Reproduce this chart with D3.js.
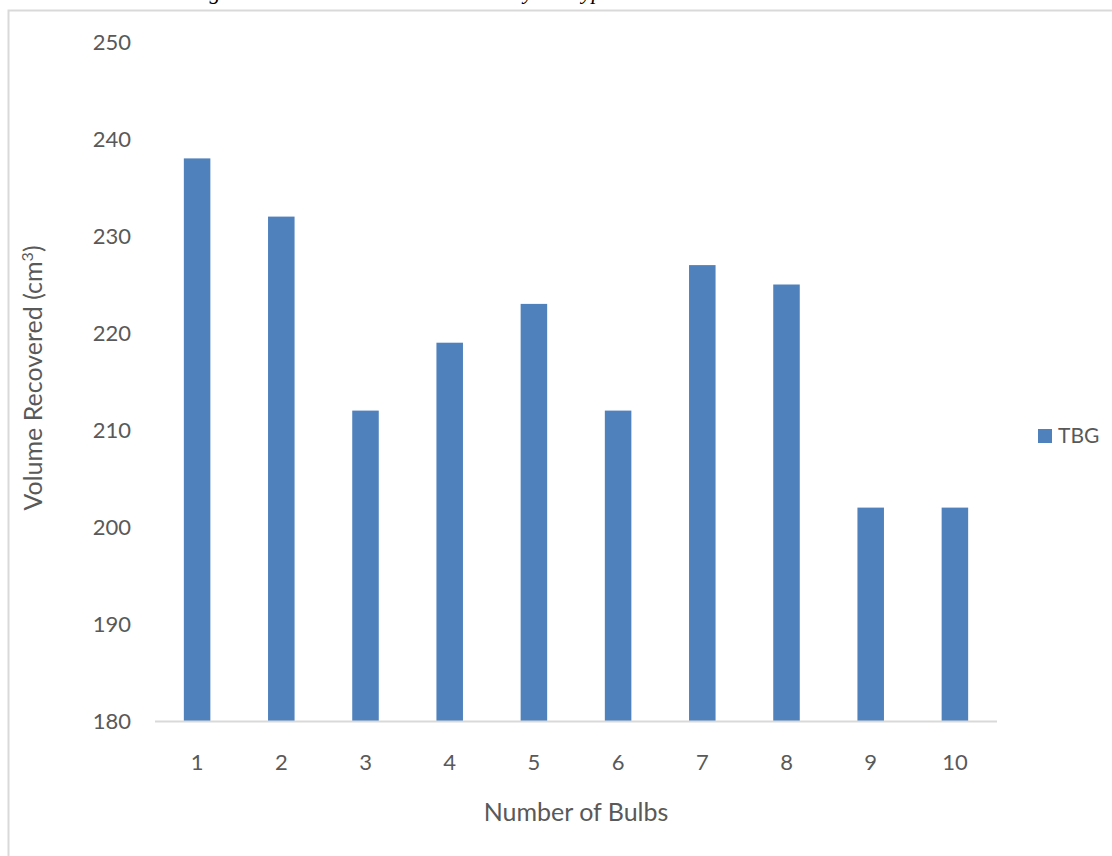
<!DOCTYPE html>
<html>
<head>
<meta charset="utf-8">
<script src="https://cdn.jsdelivr.net/npm/d3@7"></script>
<style>
  html, body { margin: 0; padding: 0; background: #fff; }
  svg { display: block; }
  text { font-family: Lato, "Open Sans", sans-serif; fill: #595959; }
</style>
</head>
<body>
<svg id="chart" width="1112" height="856"></svg>
<script>
// Bulb counts along the x axis
const categories = ["1", "2", "3", "4", "5", "6", "7", "8", "9", "10"];
// Volume recovered for the TBG series (cm³)
const tbgValues = [238, 232, 212, 219, 223, 212, 227, 225, 202, 202];
// Y axis tick values
const yTicks = [180, 190, 200, 210, 220, 230, 240, 250];
const seriesName = "TBG";

const svg = d3.select("#chart");
const W = 1112, H = 856;
const plot = { left: 155, right: 997, top: 42, bottom: 721 };
const barColor = "#4f81bd";
const gridColor = "#d9d9d9";

// Caption above the chart frame (only its descenders fall inside the page)
svg.append("text")
  .attr("x", 190).attr("y", -1)
  .style("font-family", "'Liberation Serif', 'DejaVu Serif', serif")
  .style("font-style", "italic")
  .style("font-size", "22px")
  .style("fill", "#000")
  .text("Figure 4.2: Total Volume Recovered by the Type");

// Chart frame
svg.append("path")
  .attr("d", `M8.5,${H} V10.5 H${W}`)
  .attr("fill", "none")
  .attr("stroke", gridColor)
  .attr("stroke-width", 2);

const x = d3.scaleBand()
  .domain(categories)
  .range([plot.left, plot.right])
  .paddingInner(0.685)
  .paddingOuter(0.3425);

const y = d3.scaleLinear()
  .domain([180, 250])
  .range([plot.bottom, plot.top]);

// Bars
svg.append("g")
  .selectAll("rect")
  .data(tbgValues)
  .join("rect")
  .attr("x", (d, i) => x(categories[i]))
  .attr("y", d => y(d))
  .attr("width", x.bandwidth())
  .attr("height", d => y(180) - y(d))
  .attr("fill", barColor);

// Y axis labels
const yAxis = svg.append("g")
  .attr("transform", `translate(${plot.left},0)`)
  .call(d3.axisLeft(y).tickValues(yTicks).tickSize(0).tickPadding(24).tickFormat(d3.format("d")));
yAxis.select(".domain").remove();
yAxis.selectAll("text").style("font-size", "22px").style("fill", "#595959");

// X axis line and labels
const xAxis = svg.append("g")
  .attr("transform", `translate(0,${plot.bottom})`)
  .call(d3.axisBottom(x).tickSize(0).tickPadding(33));
xAxis.select(".domain")
  .attr("d", `M${plot.left},0.5H${plot.right}`)
  .attr("stroke", gridColor)
  .attr("stroke-width", 2);
xAxis.selectAll("text").style("font-size", "22px").style("fill", "#595959");

// Axis titles
svg.append("text")
  .attr("transform", `translate(42,378) rotate(-90)`)
  .attr("text-anchor", "middle")
  .style("font-size", "25px")
  .html('Volume Recovered (cm<tspan dy="-9" font-size="16px">3</tspan><tspan dy="9">)</tspan>');

svg.append("text")
  .attr("x", (plot.left + plot.right) / 2)
  .attr("y", 821)
  .attr("text-anchor", "middle")
  .style("font-size", "25px")
  .text("Number of Bulbs");

// Legend
const legend = svg.append("g").attr("transform", "translate(1038,429)");
legend.append("rect").attr("width", 14).attr("height", 14).attr("fill", barColor);
legend.append("text")
  .attr("x", 20).attr("y", 7)
  .attr("dy", "0.35em")
  .style("font-size", "21px")
  .text(seriesName);
</script>
</body>
</html>
